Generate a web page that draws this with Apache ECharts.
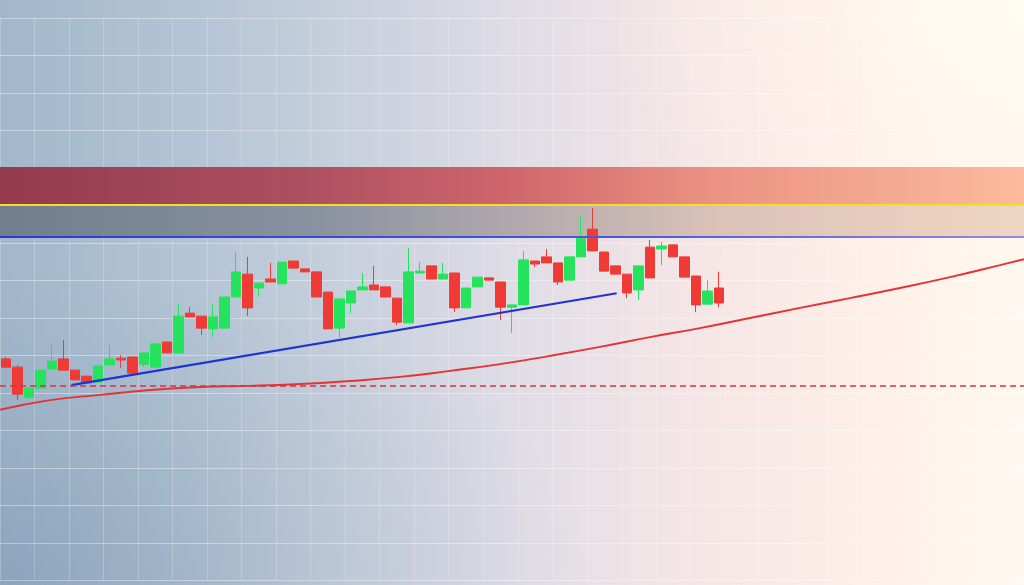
<!DOCTYPE html>
<html>
<head>
<meta charset="utf-8">
<script src="https://cdn.jsdelivr.net/npm/echarts@6/dist/echarts.min.js"></script>
<style>
html,body{margin:0;padding:0;width:1024px;height:585px;overflow:hidden;}
#bg{position:absolute;left:0;top:0;width:1024px;height:585px;
background:
 radial-gradient(ellipse 420px 300px at 100% 0%, rgba(255,252,242,0.95) 0%, rgba(255,248,238,0.5) 45%, rgba(255,248,238,0) 100%),
 radial-gradient(ellipse 600px 320px at 0% 100%, rgba(60,95,135,0.22) 0%, rgba(60,95,135,0.08) 55%, rgba(60,95,135,0) 100%),
 linear-gradient(to right, #a2b7cb 0%, #b5c5d5 20%, #cdd3df 38%, #e2dee6 52%, #f3e5e6 66%, #fcece7 80%, #fff4ec 92%, #fff8f0 100%);}
#chart{position:absolute;left:0;top:0;width:1024px;height:585px;}
</style>
</head>
<body>
<div id="bg"></div>
<div id="chart"></div>
<script>
// ---- data ----
// candle values: [open, close, low, high]
const candles = [
  [159.1,156.9,156.5,159.6],
  [156.9,149.7,148.1,157.5],
  [148.9,151.3,148.4,151.6],
  [151.3,156.1,151.3,156.1],
  [156.4,158.5,156.4,162.8],
  [159.1,156.1,156.1,164.1],
  [156.1,153.5,153.5,156.1],
  [154.5,152.7,152.7,154.5],
  [152.9,157.2,152.9,157.2],
  [157.5,159.1,157.5,162.8],
  [159.3,158.8,156.7,160.1],
  [159.6,155.3,154.8,159.6],
  [157.7,160.7,156.9,160.7],
  [156.9,163.1,156.9,163.1],
  [163.6,160.7,160.7,163.6],
  [160.7,170.5,160.7,174.0],
  [171.3,170.3,170.3,172.9],
  [170.5,167.3,165.5,170.5],
  [167.1,170.3,164.9,173.7],
  [167.3,175.6,167.3,175.6],
  [175.6,182.3,175.6,187.6],
  [181.7,172.7,170.5,186.3],
  [178.0,179.3,175.6,179.3],
  [180.4,179.6,179.6,184.7],
  [179.1,184.9,179.1,184.9],
  [185.2,183.3,183.3,185.2],
  [183.1,182.3,182.3,183.1],
  [182.3,175.6,175.6,182.3],
  [176.9,167.1,167.1,176.9],
  [167.3,175.1,164.7,175.1],
  [174.0,177.2,171.3,177.2],
  [177.5,178.3,177.5,182.0],
  [178.8,177.5,177.5,183.9],
  [178.3,175.6,175.6,178.3],
  [175.3,168.9,168.1,175.3],
  [168.7,182.3,168.7,188.7],
  [182.0,182.5,182.0,184.9],
  [183.9,180.4,180.4,183.9],
  [180.4,181.7,180.4,184.7],
  [182.0,172.7,171.6,182.0],
  [172.7,178.0,172.7,178.0],
  [178.3,180.9,178.3,180.9],
  [180.7,180.1,180.1,180.7],
  [179.6,172.9,169.5,179.6],
  [172.9,173.5,166.0,173.5],
  [173.5,185.5,173.5,187.9],
  [185.2,184.4,183.6,185.2],
  [186.3,184.7,184.7,188.4],
  [184.7,179.6,178.8,184.7],
  [180.1,186.3,180.1,186.3],
  [186.3,191.3,186.3,197.5],
  [193.7,187.9,187.9,199.3],
  [187.6,182.5,182.5,187.6],
  [183.9,181.7,181.7,183.9],
  [181.7,176.7,175.3,181.7],
  [177.5,183.9,174.8,183.9],
  [188.9,180.7,180.7,190.8],
  [188.4,189.2,184.1,190.3],
  [189.5,186.3,186.3,189.5],
  [186.3,180.9,180.9,186.3],
  [181.2,173.5,171.6,181.2],
  [173.7,177.2,173.7,180.1],
  [178.0,174.0,172.9,182.3]
];
const periodCount = 89;           // slots on the time axis (candles fill the first 63)
const categories = Array.from({length: periodCount}, (_, i) => 'D' + (i + 1));

// resistance zone and levels
const resistanceBand = [200.1, 210.3];
const shadowBand = [191.6, 200.1];
const yellowLevel = 200.1;
const blueLevel = 191.6;
const supportLevel = 151.9;

// rising trend line (x in slot units, y price)
const trendLine = [[6.2, 152.1], [53.6, 176.6]];

// red moving-average curve
const maCurve = [
  [0,145.5],[4.35,148.1],[8.69,149.5],[13.04,150.8],[17.38,151.6],[21.73,151.9],
  [26.07,152.4],[30.42,153.2],[34.76,154.3],[39.11,155.9],[43.46,157.7],[47.80,159.9],
  [52.15,162.3],[56.49,164.9],[60.84,167.3],[65.18,170.0],[69.53,172.7],[73.87,175.3],
  [78.22,178.0],[82.57,180.9],[86.91,184.1],[89,185.7]
];

const chart = echarts.init(document.getElementById('chart'), null, {renderer: 'canvas'});
const hGrad = (stops) => ({type:'linear', x:0, y:0, x2:1, y2:0,
  colorStops: stops.map(s => ({offset: s[0], color: s[1]}))});

chart.setOption({
  backgroundColor: 'transparent',
  animation: false,
  grid: {left: 0, right: 0, top: 18, bottom: 4.5},
  xAxis: [
    {type: 'category', data: categories, boundaryGap: true, show: false},
    {type: 'value', min: 0, max: periodCount, interval: 3,
     axisLine: {show: false}, axisTick: {show: false}, axisLabel: {show: false},
     splitLine: {show: true, lineStyle: {color: 'rgba(255,255,255,0.22)', width: 1}}}
  ],
  yAxis: {type: 'value', min: 100, max: 250, interval: 10, scale: false,
    axisLine: {show: false}, axisTick: {show: false}, axisLabel: {show: false},
    splitLine: {show: true, lineStyle: {color: 'rgba(255,255,255,0.38)', width: 1.2}}},
  series: [
    {
      type: 'candlestick', xAxisIndex: 0, yAxisIndex: 0,
      data: candles, barWidth: 10,
      itemStyle: {color: '#25e35c', color0: '#ef3a36', borderColor: '#25e35c', borderColor0: '#ef3a36', borderWidth: 1},
      markArea: {
        silent: true,
        data: [
          [{yAxis: resistanceBand[0], itemStyle: {color: hGrad([[0,'#943a4f'],[0.3,'#ad5060'],[0.5,'#cf676c'],[0.7,'#ec9383'],[1,'#fbbb9c']])}},
           {yAxis: resistanceBand[1]}],
          [{yAxis: shadowBand[0], itemStyle: {color: hGrad([[0,'#717e8d'],[0.3,'#88919f'],[0.5,'#b0a8ad'],[0.7,'#dbc2b8'],[1,'#efd6c2']])}},
           {yAxis: shadowBand[1]}]
        ]
      },
      markLine: {
        silent: true, symbol: 'none', label: {show: false},
        data: [
          {yAxis: yellowLevel, lineStyle: {color: '#f3e026', width: 2, type: 'solid'}},
          {yAxis: blueLevel, lineStyle: {color: hGrad([[0,'#2a3ccc'],[0.6,'#4a58d4'],[1,'#8f8ddc']]), width: 2, type: 'solid'}},
          {yAxis: supportLevel, lineStyle: {color: '#d6353a', width: 1.5, type: [6,4]}}
        ]
      }
    },
    {
      type: 'line', xAxisIndex: 1, yAxisIndex: 0, data: trendLine,
      symbol: 'none', lineStyle: {color: '#1f33d2', width: 2.2}, z: 3
    },
    {
      type: 'line', xAxisIndex: 1, yAxisIndex: 0, data: maCurve, smooth: true,
      symbol: 'none', lineStyle: {color: '#e53236', width: 2}, z: 3
    }
  ]
});
</script>
</body>
</html>
